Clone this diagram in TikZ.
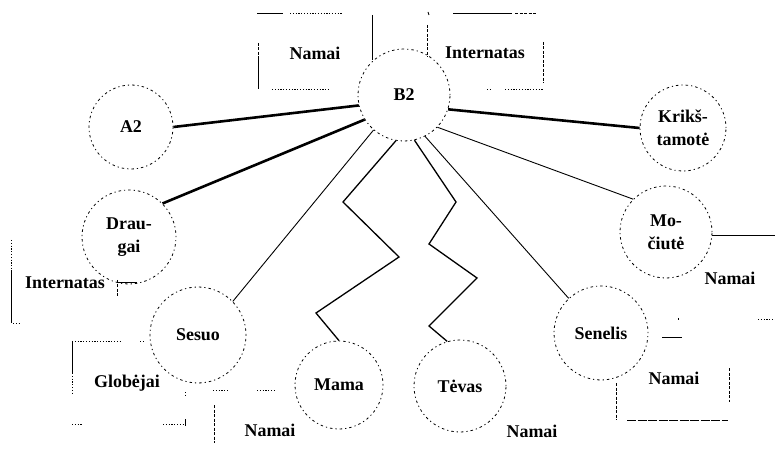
\documentclass[tikz,border=0pt]{standalone}
\usepackage{fontspec}
\setmainfont{Liberation Serif}
\begin{document}
\begin{tikzpicture}[x=1bp,y=-1bp,
  lbl/.style={font=\fontsize{18}{23}\selectfont\bfseries, inner sep=0pt, align=center},
  circ/.style={circle, draw, line width=0.8bp, dash pattern=on 1.2bp off 3bp on 2.5bp off 3bp, inner sep=0pt, align=center, font=\fontsize{18}{23}\selectfont\bfseries},
  heavy/.style={line width=2.6bp},
  fine/.style={line width=0.9bp},
  zig/.style={line width=1.3bp, line join=miter},
  bsolid/.style={line width=0.9bp},
  bdash/.style={line width=0.9bp, dash pattern=on 3bp off 1.5bp},
  bdot/.style={line width=0.9bp, dash pattern=on 1.2bp off 1.6bp},
  blong/.style={line width=0.9bp, dash pattern=on 9bp off 1.5bp}
]
\useasboundingbox (0,0) rectangle (775,470);

% circles
\node[circ, minimum size=92bp] (B2) at (404,95) {B2};
\node[circ, minimum size=84bp] (A2) at (131,127) {A2};
\node[circ, minimum size=94bp] (Draugai) at (129,237) {Drau-\\gai};
\node[circ, minimum size=86bp] (Krik) at (683,128) {Krikš-\\tamotė};
\node[circ, minimum size=92bp] (Mo) at (666,232) {Mo-\\čiutė};
\node[circ, minimum size=96bp] (Sesuo) at (198,335) {Sesuo};
\node[circ, minimum size=88bp] (Mama) at (339,385) {Mama};
\node[circ, minimum size=92bp] (Tevas) at (460,386) {Tėvas};
\node[circ, minimum size=94bp] (Senelis) at (601,333) {Senelis};

% connectors
\draw[heavy] (A2.east) -- (B2.193);
\draw[heavy] (Draugai.45) -- (B2.212);
\draw[heavy] (B2.342) -- (Krik.west);
\draw[fine] (B2.316) -- (Mo.135);
\draw[fine] (B2.229) -- (Sesuo.44);
\draw[fine] (B2.297) -- (Senelis.133);
\draw[zig] (B2.260) -- (343,202) -- (399,257) -- (316,313) -- (Mama.north);
\draw[zig] (B2.283) -- (456,202) -- (429,244) -- (477,278) -- (429,326) -- (Tevas.106);

% context labels
\node[lbl] (nTop) at (315,53) {Namai};
\node[lbl] (iTop) at (485,53) {Internatas};
\node[lbl] (iLeft) at (65,283) {Internatas};
\node[lbl] (nMo) at (730,278) {Namai};
\node[lbl] (nSen) at (674,378) {Namai};
\node[lbl] (glob) at (127,383) {Globėjai};
\node[lbl] (nMama) at (270,430) {Namai};
\node[lbl] (nTev) at (532,431) {Namai};

% top-left Namai box
\draw[bsolid] (257,13) -- (283,13);
\draw[bdot] (290,13) -- (343,13);
\draw[bdash] (258,43) -- (258,57);
\draw[bsolid] (258,57) -- (258,89);
\draw[bsolid] (372,15) -- (372,60);
\draw[bdot] (272,89) -- (330,89);

% top-right Internatas box
\draw[bdash] (427,25) -- (427,57);
\draw[bsolid] (428,12) -- (429,15);
\draw[bsolid] (453,13) -- (512,13);
\draw[bdash] (515,13) -- (537,13);
\draw[bdash] (543,42) -- (543,83);
\draw[bdot] (487,89) -- (492,89);
\draw[bdot] (505,89) -- (543,89);

% right Namai (Mociute)
\coordinate (moTop) at (712,235);
\draw[bsolid] (moTop) -- (775,235);
\draw[bdot] (758,319) -- (775,319);
\draw[bsolid] (662,337) -- (682,337);
\draw[bsolid] (678,318) -- (678,320);

% Senelis Namai box
\draw[bdash] (616,383) -- (616,420);
\draw[bdash] (729,368) -- (729,402);
\draw[blong] (627,420) -- (728,420);

% left Internatas box
\draw[bdot] (11,240) -- (11,270);
\draw[bsolid] (11,270) -- (11,323);
\draw[bdot] (13,323) -- (20,323);
\draw[bdash] (117,280) -- (117,298);
\draw[bsolid] (117,282) -- (137,282);

% Globejai box
\draw[bdot] (72,341) -- (122,341);
\draw[bdot] (140,341) -- (145,341);
\draw[bsolid] (72,341) -- (72,373);
\draw[bdot] (72,373) -- (72,395);
\draw[bdot] (185,392) -- (185,397);
\draw[bsolid] (185,419) -- (185,426);
\draw[bdot] (72,424) -- (82,424);
\draw[bdot] (163,424) -- (185,424);

% Mama Namai box
\draw[bdot] (213,390) -- (228,390);
\draw[bdot] (257,390) -- (275,390);
\draw[bdash] (214,405) -- (214,443);
\end{tikzpicture}
\end{document}
